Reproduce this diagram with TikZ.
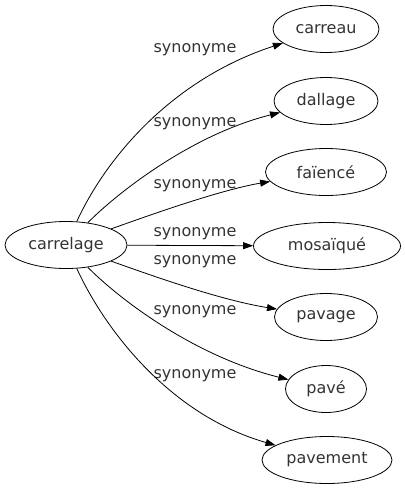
\documentclass[tikz,border=0pt]{standalone}
\usepackage{fontspec}
\setmainfont{DejaVu Sans}
\usetikzlibrary{shapes.geometric,arrows.meta}

\tikzset{
  word/.style={draw,ellipse,inner sep=0pt,minimum height=47},
  syn/.style={inner sep=1pt,text=black!80},
  link/.style={-{Triangle[length=10pt,width=7pt]},line width=0.8pt}
}

\begin{document}
\begin{tikzpicture}[x=1pt,y=-1pt,font=\fontsize{16}{19}\selectfont,line width=0.8pt]
\useasboundingbox (0,0) rectangle (405,491);
\node[word,minimum width=122,text=black!80] (carrelage) at (66,245) {carrelage};
\node[word,minimum width=106,text=black!80] (carreau) at (326,29) {carreau};
\node[word,minimum width=104,text=black!80] (dallage) at (326,101) {dallage};
\node[word,minimum width=121,text=black!80] (faience) at (326,172) {faïencé};
\node[word,minimum width=147,text=black!80] (mosaique) at (327,246) {mosaïqué};
\node[word,minimum width=103,text=black!80] (pavage) at (326,317) {pavage};
\node[word,minimum width=81,text=black!80] (pave) at (326,389) {pavé};
\node[word,minimum width=130,text=black!80] (pavement) at (327,460) {pavement};
% edge labels
\node[syn] (s1) at (195,50) {synonyme};
\node[syn] (s2) at (195,124) {synonyme};
\node[syn] (s3) at (195,186) {synonyme};
\node[syn] (s4) at (195,234) {synonyme};
\node[syn] (s5) at (195,262) {synonyme};
\node[syn] (s6) at (195,312) {synonyme};
\node[syn] (s7) at (195,376) {synonyme};
% edges
\draw[link] (carrelage) .. controls (105,160) and (170,80) .. (carreau);
\draw[link] (carrelage) .. controls (115,195) and (190,135) .. (dallage);
\draw[link] (carrelage) .. controls (150,215) and (220,190) .. (faience);
\draw[link] (carrelage) -- (mosaique);
\draw[link] (carrelage) .. controls (150,275) and (220,300) .. (pavage);
\draw[link] (carrelage) .. controls (115,295) and (190,355) .. (pave);
\draw[link] (carrelage) .. controls (105,330) and (170,415) .. (pavement);
\end{tikzpicture}
\end{document}
